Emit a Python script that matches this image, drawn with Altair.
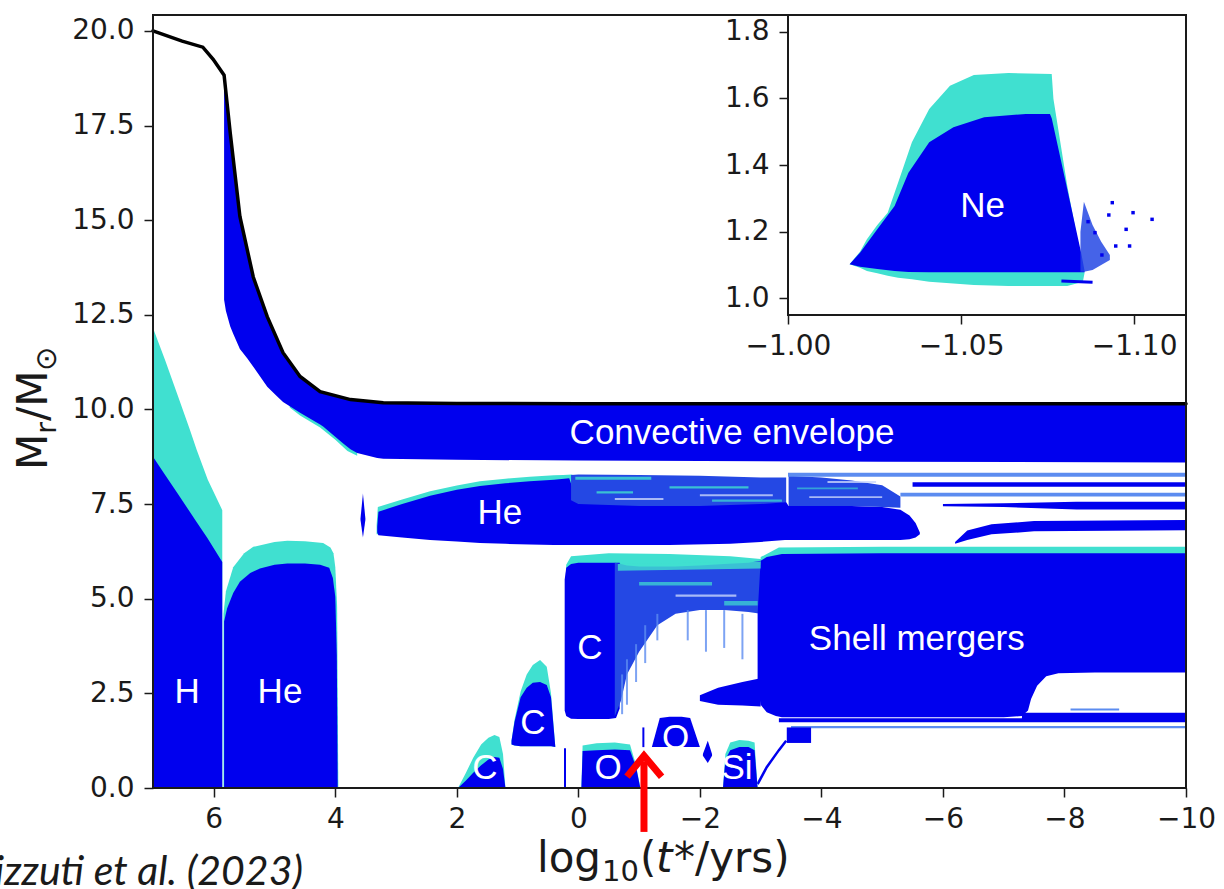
import altair as alt
import pandas as pd

# ---------------- colours / layout ----------------
BLUE = "#0000EE"
TURQ = "#40E0D0"
MIX = "#2448e4"
LIGHT = "#5c8cf0"
PALE = "#c9d6fb"
INK = "#1a1a1a"
W, H = 1033, 773

# ---------------- data ----------------
x_ticks = [6, 4, 2, 0, -2, -4, -6, -8, -10]
y_ticks = [0, 2.5, 5, 7.5, 10, 12.5, 15, 17.5, 20]
ix_ticks = [-1.0, -1.05, -1.1]
iy_ticks = [1.0, 1.2, 1.4, 1.6, 1.8]

# total stellar mass (black curve)
mass_x = [7.0, 6.52, 6.18, 6.01, 5.83, 5.73, 5.57, 5.35, 5.12, 4.86, 4.58, 4.25, 3.75, 3.21, 2.0, 0.0, -5.0, -10.0]
mass_y = [20.0, 19.73, 19.57, 19.25, 18.83, 17.32, 15.1, 13.5, 12.45, 11.5, 10.87, 10.47, 10.26, 10.18, 10.16, 10.15, 10.15, 10.15]

# convective envelope
env_x = [5.83, 5.80, 5.73, 5.68, 5.57, 5.45, 5.35, 5.12, 4.96, 4.86, 4.58, 4.25, 4.2, 3.87, 3.75, 3.64, 3.31, 3.21, 2.0, 0.0, -5.0, -10.0]
env_top = [18.83, 18.4, 17.32, 16.6, 15.1, 14.2, 13.5, 12.45, 11.9, 11.5, 10.87, 10.47, 10.44, 10.3, 10.26, 10.23, 10.19, 10.18, 10.16, 10.15, 10.15, 10.15]
env_bot = [12.9, 12.6, 12.2, 12.0, 11.6, 11.35, 11.13, 10.6, 10.35, 10.2, 9.91, 9.6, 9.55, 9.1, 8.95, 8.85, 8.72, 8.70, 8.67, 8.65, 8.62, 8.60]
envt_x = [4.75, 4.58, 4.25, 4.0, 3.8, 3.64]
envt_top = [10.15, 9.95, 9.65, 9.35, 9.05, 8.9]
envt_bot = [10.05, 9.84, 9.52, 9.2, 8.9, 8.78]

# H core
h_x = [7.0, 6.8, 6.6, 6.4, 6.28, 6.1, 5.86]
hT_top = [12.15, 11.3, 10.4, 9.5, 8.93, 8.15, 7.34]
hB_top = [8.75, 8.27, 7.79, 7.31, 7.02, 6.59, 5.97]

# He core
heT_x = [5.84, 5.80, 5.68, 5.50, 5.35, 5.0, 4.79, 4.5, 4.2, 4.08, 4.03, 4.0, 3.97, 3.95]
heT_top = [4.6, 5.2, 5.83, 6.2, 6.37, 6.5, 6.53, 6.52, 6.47, 6.35, 6.2, 5.84, 4.8, 0.0]
heB_x = [5.83, 5.78, 5.68, 5.57, 5.4, 5.24, 5.0, 4.79, 4.5, 4.25, 4.1, 4.04, 4.0, 3.975, 3.96]
heB_top = [4.4, 4.75, 5.15, 5.45, 5.68, 5.8, 5.9, 5.93, 5.93, 5.9, 5.82, 5.55, 5.05, 3.5, 0.0]

# He shell
lens_x = [3.585, 3.545, 3.505]
lens_top = [7.12, 7.78, 7.12]
lens_bot = [7.08, 6.62, 7.08]
hesT_x = [3.32, 3.3, 2.9, 2.44, 2.0, 1.62, 1.2, 0.8, 0.4, 0.25, 0.1]
hesT_top = [6.95, 7.42, 7.62, 7.84, 7.99, 8.1, 8.17, 8.22, 8.26, 8.27, 8.28]
hes_x = [3.31, 3.29, 2.9, 2.44, 2.0, 1.62, 1.2, 0.8, 0.4, 0.15, 0.05, -0.5, -1.5, -2.5, -3.0, -3.4, -3.46, -4.0, -4.5, -5.0, -5.3, -5.45, -5.55, -5.62]
hes_top = [6.9, 7.3, 7.5, 7.72, 7.88, 7.98, 8.05, 8.1, 8.14, 8.18, 7.7, 7.6, 7.55, 7.55, 7.6, 7.6, 7.45, 7.45, 7.45, 7.42, 7.35, 7.2, 7.0, 6.75]
hes_bot = [6.75, 6.68, 6.62, 6.55, 6.51, 6.47, 6.45, 6.43, 6.42, 6.42, 6.42, 6.42, 6.42, 6.45, 6.5, 6.55, 6.55, 6.55, 6.55, 6.55, 6.55, 6.57, 6.62, 6.7]
fzh_x = [0.12, 0.0, -1.0, -2.0, -3.0, -3.42]
fzh_top = [8.27, 8.28, 8.27, 8.25, 8.2, 8.2]
fzh_bot = [7.6, 7.5, 7.45, 7.45, 7.5, 7.55]
fzh2_x = [-3.46, -4.0, -4.5, -5.0, -5.3]
fzh2_top = [8.25, 8.2, 8.12, 8.0, 7.7]
fzh2_bot = [7.45, 7.45, 7.45, 7.42, 7.4]

# streaks giving the mixed zones their grain
tqA_x = [0.05, -1.2]; tqA_top = [8.22, 8.22]; tqA_bot = [8.14, 8.14]
tqB_x = [-0.3, -0.9]; tqB_top = [7.84, 7.84]; tqB_bot = [7.78, 7.78]
tqC_x = [-1.5, -2.8]; tqC_top = [7.97, 7.97]; tqC_bot = [7.91, 7.91]
tqD_x = [-2.2, -3.35]; tqD_top = [7.62, 7.62]; tqD_bot = [7.56, 7.56]
tqE_x = [-3.6, -4.6]; tqE_top = [7.94, 7.94]; tqE_bot = [7.89, 7.89]
whA_x = [-0.6, -1.4]; whA_top = [7.66, 7.66]; whA_bot = [7.61, 7.61]
whB_x = [-2.0, -3.2]; whB_top = [7.76, 7.76]; whB_bot = [7.71, 7.71]
whC_x = [-3.8, -5.0]; whC_top = [7.71, 7.71]; whC_bot = [7.66, 7.66]
whD_x = [-4.1, -4.9]; whD_top = [8.11, 8.11]; whD_bot = [8.06, 8.06]
tqF_x = [-0.65, -3.0]; tqF_top = [5.92, 5.98]; tqF_bot = [5.74, 5.8]
tqG_x = [-1.0, -2.2]; tqG_top = [5.44, 5.44]; tqG_bot = [5.35, 5.35]
tqH_x = [-2.4, -2.95]; tqH_top = [4.94, 4.94]; tqH_bot = [4.82, 4.82]
whE_x = [-1.6, -2.6]; whE_top = [5.11, 5.11]; whE_bot = [5.05, 5.05]
# thin vertical streaks along the ragged edge of the C-shell zone
vs_x = [-0.72, -0.8, -0.95, -1.1, -1.3, -1.8, -2.1, -2.4, -2.7]
vs_lo = [1.95, 2.2, 2.8, 3.3, 3.9, 3.9, 3.6, 3.7, 3.4]
vs_hi = [3.0, 3.4, 3.8, 4.3, 4.6, 4.7, 4.7, 4.7, 4.6]

# horizontal stripes right of the He shell
st1_x = [-3.45, -10.0]; st1_top = [8.33, 8.33]; st1_bot = [8.22, 8.22]
st2_x = [-5.5, -10.0]; st2_top = [8.08, 8.08]; st2_bot = [7.96, 7.96]
st3_x = [-5.3, -10.0]; st3_top = [7.8, 7.8]; st3_bot = [7.7, 7.7]
st4_x = [-6.0, -7.0, -8.2, -10.0]; st4_top = [7.5, 7.52, 7.56, 7.56]; st4_bot = [7.44, 7.42, 7.36, 7.36]
band_x = [-6.2, -6.4, -6.8, -7.5, -10.0]
band_top = [6.5, 6.8, 6.97, 7.05, 7.08]
band_bot = [6.45, 6.55, 6.7, 6.78, 6.81]

# C shell (big) and its fuzzy extension
ccap_x = [0.2, 0.12, -0.5, -1.5, -2.5, -3.0, -3.3]
ccap_top = [5.9, 6.12, 6.2, 6.18, 6.12, 6.05, 6.1]
cs_x = [0.225, 0.2, 0.12, 0.0, -0.5, -0.62, -0.68]
cs_top = [5.5, 5.82, 5.92, 5.95, 5.95, 5.95, 5.95]
cs_bot = [2.05, 1.9, 1.83, 1.82, 1.82, 1.85, 2.1]
fzc_x = [-0.6, -0.7, -0.8, -1.0, -1.3, -1.6, -2.0, -2.4, -2.8, -3.0]
fzc_top = [5.95, 5.92, 5.88, 5.85, 5.85, 5.85, 5.88, 5.92, 5.95, 6.0]
fzc_bot = [1.9, 2.3, 3.0, 3.6, 4.3, 4.6, 4.7, 4.7, 4.65, 4.6]
cb_x = [-2.0, -2.3, -2.7, -3.0]
cb_top = [2.45, 2.65, 2.8, 2.9]
cb_bot = [2.3, 2.2, 2.18, 2.15]

# shell mergers
smT_x = [-3.0, -3.3, -5.0, -10.0]
smT_top = [6.1, 6.35, 6.37, 6.37]
sm_x = [-2.95, -3.0, -3.1, -3.25, -3.35, -5.0, -7.0, -7.3, -7.4, -7.45, -7.55, -7.7, -7.9, -8.5, -10.0]
sm_top = [4.6, 6.0, 6.1, 6.15, 6.18, 6.2, 6.2, 6.2, 6.2, 6.2, 6.2, 6.2, 6.2, 6.2, 6.2]
sm_bot = [2.7, 2.2, 2.0, 1.9, 1.87, 1.87, 1.87, 1.9, 2.05, 2.35, 2.7, 2.95, 3.03, 3.05, 3.05]
sml_x = [-7.3, -10.0]; sml_top = [1.99, 1.99]; sml_bot = [1.78, 1.78]
l1_x = [-3.3, -10.0]; l1_top = [1.84, 1.84]; l1_bot = [1.74, 1.74]
l2_x = [-3.5, -10.0]; l2_top = [1.64, 1.64]; l2_bot = [1.58, 1.58]
hl_x = [-8.1, -8.9]; hl_top = [2.1, 2.1]; hl_bot = [2.05, 2.05]
blk_x = [-3.43, -3.83]; blk_top = [1.6, 1.6]; blk_bot = [1.19, 1.19]
tail_x = [-2.95, -3.1, -3.3, -3.42]
tail_y = [0.1, 0.55, 1.0, 1.25]

# small shells near the core
c1_x = [1.98, 1.85, 1.73, 1.6, 1.48, 1.38, 1.3, 1.24, 1.2]
c1T_top = [0.0, 0.4, 0.8, 1.15, 1.33, 1.4, 1.35, 0.9, 0.0]
c1B_top = [0.0, 0.2, 0.4, 0.6, 0.75, 0.82, 0.8, 0.5, 0.0]
c2_x = [1.1, 1.05, 0.95, 0.85, 0.75, 0.63, 0.52, 0.45, 0.38]
c2T_top = [1.25, 1.8, 2.55, 3.0, 3.25, 3.38, 3.2, 2.5, 1.1]
c2B_top = [1.25, 1.75, 2.4, 2.65, 2.78, 2.8, 2.72, 2.4, 1.1]
c2_bot = [1.15, 1.12, 1.1, 1.1, 1.1, 1.1, 1.1, 1.1, 1.08]
o1_x = [-0.05, -0.07, -0.3, -0.6, -0.85, -0.95, -1.02]
o1T_top = [0.0, 1.12, 1.18, 1.2, 1.15, 0.6, 0.0]
o1B_top = [0.0, 0.98, 1.0, 1.02, 1.0, 0.55, 0.0]
o2_x = [-1.21, -1.34, -1.5, -1.7, -1.84, -2.0]
o2_top = [1.08, 1.85, 1.88, 1.88, 1.85, 1.08]
blob_x = [-2.05, -2.13, -2.2]; blob_top = [0.9, 1.25, 0.9]; blob_bot = [0.85, 0.66, 0.85]
si_x = [-2.38, -2.42, -2.5, -2.65, -2.8, -2.9, -2.95]
siT_top = [0.0, 0.9, 1.2, 1.27, 1.25, 1.2, 0.0]
siB_top = [0.0, 0.75, 1.0, 1.08, 1.08, 1.0, 0.0]
vl_x = [0.22, -1.07]; vl_lo = [0.0, 1.08]; vl_hi = [1.05, 1.6]

# labels
lab_x = [6.44, 4.91, 1.29, -2.53, -0.19, 0.75, 1.54, -0.49, -1.6, -2.61, -5.57]
lab_y = [2.54, 2.54, 7.26, 9.38, 3.7, 1.72, 0.53, 0.53, 1.32, 0.53, 3.93]
lab_t = ["H", "He", "He", "Convective envelope", "C", "C", "C", "O", "O", "Si", "Shell mergers"]

# red arrow
arr_x = [-1.08, -1.08]; arr_y = [-1.16, 0.7]
head_x = [-0.8, -1.08, -1.37]; head_y = [0.3, 0.85, 0.3]

# inset: Ne burning
neT_x = [-1.0178, -1.0208, -1.0228, -1.0258, -1.0288, -1.0318, -1.0358, -1.0408, -1.0468, -1.0537, -1.0637, -1.0762, -1.0767, -1.0807, -1.0852, -1.0857]
neT_top = [1.102, 1.14, 1.177, 1.22, 1.257, 1.347, 1.468, 1.568, 1.638, 1.670, 1.676, 1.673, 1.598, 1.337, 1.09, 1.077]
neT_bot = [1.102, 1.092, 1.082, 1.075, 1.068, 1.062, 1.057, 1.05, 1.045, 1.04, 1.037, 1.037, 1.037, 1.037, 1.05, 1.077]
neB_x = [-1.0178, -1.0208, -1.0258, -1.0308, -1.0348, -1.0408, -1.0478, -1.0567, -1.0687, -1.0757, -1.0762, -1.08, -1.0847, -1.0857]
neB_top = [1.102, 1.137, 1.207, 1.277, 1.377, 1.468, 1.513, 1.543, 1.553, 1.553, 1.54, 1.36, 1.137, 1.082]
neB_bot = [1.102, 1.095, 1.088, 1.082, 1.079, 1.078, 1.078, 1.078, 1.078, 1.078, 1.078, 1.078, 1.078, 1.078]
spray_x = [-1.0845, -1.0855, -1.088, -1.0905, -1.093]
spray_top = [1.2, 1.29, 1.22, 1.17, 1.13]
spray_bot = [1.08, 1.08, 1.085, 1.1, 1.115]
nes_x = [-1.0937, -1.0977, -1.0997, -1.1052, -1.0987, -1.0947, -1.0887, -1.0907, -1.0867, -1.0927]
nes_y = [1.287, 1.207, 1.257, 1.237, 1.157, 1.157, 1.197, 1.13, 1.23, 1.25]
streak_x = [-1.079, -1.088]; streak_y = [1.052, 1.048]

# ---------------- scales & axes ----------------
SX = alt.Scale(domain=[7, -10], nice=False, zero=False)
SY = alt.Scale(domain=[0, 20.42], nice=False, zero=False)
SIX = alt.Scale(domain=[-1.0, -1.115], range=[635, W], nice=False, zero=False)
SIY = alt.Scale(domain=[0.95, 1.85], range=[300, 0], nice=False, zero=False)

common = dict(title=None, domain=False, grid=False, ticks=True, tickSize=9, tickWidth=1.5,
              tickColor=INK, labelFont="DejaVu Sans", labelFontSize=28, labelColor=INK,
              labelFlush=False, labelOverlap=False, zindex=2)
AXX = alt.Axis(values=x_ticks, format="d", orient="bottom", labelPadding=8, **common)
AXY = alt.Axis(values=y_ticks, format=".1f", orient="left", labelPadding=10, **common)
AIX = alt.Axis(values=ix_ticks, format=".2f", orient="bottom", offset=-(H - 300), labelPadding=8, **common)
AIY = alt.Axis(values=iy_ticks, format=".1f", orient="left", offset=-635, labelPadding=10, **common)


def mx(f):
    return alt.X(f, type="quantitative", scale=SX, axis=AXX)


def my(f):
    return alt.Y(f, type="quantitative", scale=SY, axis=AXY)


def ix(f):
    return alt.X(f, type="quantitative", scale=SIX, axis=AIX)


def iy(f):
    return alt.Y(f, type="quantitative", scale=SIY, axis=AIY)


def table(xs, tops, bots):
    n = len(xs)
    if not isinstance(bots, (list, tuple)):
        bots = [bots] * n
    return pd.DataFrame({"x": xs, "top": tops, "bot": bots})


def area(xs, tops, bots, color, opacity=1.0, inset=False):
    fx, fy = (ix, iy) if inset else (mx, my)
    return alt.Chart(table(xs, tops, bots)).mark_area(
        color=color, opacity=opacity, interpolate="linear").encode(
        x=fx("x"), y=fy("top"), y2=alt.Y2("bot"))


def line(xs, ys, color, width, cap="butt"):
    df = pd.DataFrame({"x": xs, "y": ys, "i": list(range(len(xs)))})
    return alt.Chart(df).mark_line(color=color, strokeWidth=width, strokeCap=cap,
                                   strokeJoin="miter").encode(
        x=mx("x"), y=my("y"), order=alt.Order("i:Q"))


def rules(xs, lo, hi, color, width, opacity=1.0):
    return alt.Chart(pd.DataFrame({"x": xs, "lo": lo, "hi": hi})).mark_rule(
        color=color, strokeWidth=width, opacity=opacity).encode(
        x=mx("x"), y=my("lo"), y2=alt.Y2("hi"))


main_layers = [
    area(h_x, hT_top, 0, TURQ),
    area(h_x, hB_top, 0, BLUE),
    area(heT_x, heT_top, 0, TURQ),
    area(heB_x, heB_top, 0, BLUE),
    area(envt_x, envt_top, envt_bot, TURQ),
    area(env_x, env_top, env_bot, BLUE),
    area(lens_x, lens_top, lens_bot, BLUE),
    area(hesT_x, hesT_top, 6.7, TURQ),
    area(hes_x, hes_top, hes_bot, BLUE),
    area(fzh_x, fzh_top, fzh_bot, MIX),
    area(fzh2_x, fzh2_top, fzh2_bot, MIX),
    area(st1_x, st1_top, st1_bot, LIGHT),
    area(st2_x, st2_top, st2_bot, BLUE),
    area(st3_x, st3_top, st3_bot, LIGHT),
    area(st4_x, st4_top, st4_bot, BLUE),
    area(band_x, band_top, band_bot, BLUE),
    area(ccap_x, ccap_top, 5.6, TURQ),
    area(cs_x, cs_top, cs_bot, BLUE),
    area(fzc_x, fzc_top, fzc_bot, MIX),
    rules(vs_x, vs_lo, vs_hi, LIGHT, 2, 0.8),
    area(cb_x, cb_top, cb_bot, BLUE),
    area(smT_x, smT_top, 5.9, TURQ),
    area(sm_x, sm_top, sm_bot, BLUE),
    area(sml_x, sml_top, sml_bot, BLUE),
    area(l1_x, l1_top, l1_bot, BLUE),
    area(l2_x, l2_top, l2_bot, LIGHT),
    area(hl_x, hl_top, hl_bot, LIGHT),
    area(blk_x, blk_top, blk_bot, BLUE),
    area(tqA_x, tqA_top, tqA_bot, TURQ, 0.8),
    area(tqB_x, tqB_top, tqB_bot, TURQ, 0.8),
    area(tqC_x, tqC_top, tqC_bot, TURQ, 0.8),
    area(tqD_x, tqD_top, tqD_bot, TURQ, 0.7),
    area(tqE_x, tqE_top, tqE_bot, TURQ, 0.6),
    area(tqF_x, tqF_top, tqF_bot, TURQ, 0.8),
    area(tqG_x, tqG_top, tqG_bot, TURQ, 0.7),
    area(tqH_x, tqH_top, tqH_bot, TURQ, 0.7),
    area(whA_x, whA_top, whA_bot, PALE, 0.8),
    area(whB_x, whB_top, whB_bot, PALE, 0.8),
    area(whC_x, whC_top, whC_bot, PALE, 0.8),
    area(whD_x, whD_top, whD_bot, PALE, 0.8),
    area(whE_x, whE_top, whE_bot, PALE, 0.8),
    line(tail_x, tail_y, BLUE, 2.5),
    area(c1_x, c1T_top, 0, TURQ),
    area(c1_x, c1B_top, 0, BLUE),
    area(c2_x, c2T_top, c2_bot, TURQ),
    area(c2_x, c2B_top, c2_bot, BLUE),
    area(o1_x, o1T_top, 0, TURQ),
    area(o1_x, o1B_top, 0, BLUE),
    area(o2_x, o2_top, 1.08, BLUE),
    area(blob_x, blob_top, blob_bot, BLUE),
    area(si_x, siT_top, 0, TURQ),
    area(si_x, siB_top, 0, BLUE),
    rules(vl_x, vl_lo, vl_hi, BLUE, 2),
    line(mass_x, mass_y, "black", 3.5, "round"),
    alt.Chart(pd.DataFrame({"x": lab_x, "y": lab_y, "t": lab_t})).mark_text(
        color="white", font="Liberation Sans", fontSize=35, align="center",
        baseline="middle").encode(x=mx("x"), y=my("y"), text="t:N"),
    alt.Chart(pd.DataFrame({"a": [0]})).mark_rect(
        filled=False, stroke=INK, strokeWidth=2).encode(
        x=alt.value(0), x2=alt.value(W), y=alt.value(0), y2=alt.value(H)),
    line(arr_x, arr_y, "#ff0000", 7),
    line(head_x, head_y, "#ff0000", 7),
]


def txt(t, x, y, size, angle=0, align="left", style="normal", font="DejaVu Sans"):
    return alt.Chart(pd.DataFrame({"t": [t]})).mark_text(
        font=font, fontSize=size, angle=angle, align=align, baseline="alphabetic",
        color=INK, fontStyle=style).encode(x=alt.value(x), y=alt.value(y), text="t:N")


# axis titles composed from text pieces (relative to the plot origin)
titles = [
    txt("log", 448, 857, 42, align="right"),
    txt("10", 449, 866, 29),
    txt("(", 487, 857, 42),
    txt("t", 503, 857, 42, style="italic"),
    txt("*/yrs)", 521, 857, 42),
    txt("M", -106, 455, 42, angle=270),
    txt("r", -97, 419, 29, angle=270),
    txt("/M", -106, 406, 42, angle=270),
    txt("⊙", -97, 356, 29, angle=270),
    txt("Rizzuti et al. (2023)", 150, 870, 41, align="right", style="italic", font="Lato"),
]

main = alt.layer(*main_layers, *titles)

inset_layers = [
    alt.Chart(pd.DataFrame({"x1": [-1.0], "x2": [-1.115], "y1": [0.95], "y2": [1.85]})).mark_rect(
        fill="white", stroke=INK, strokeWidth=2).encode(
        x=ix("x1"), x2=alt.X2("x2"), y=iy("y1"), y2=alt.Y2("y2")),
    area(neT_x, neT_top, neT_bot, TURQ, inset=True),
    area(neB_x, neB_top, neB_bot, BLUE, inset=True),
    area(spray_x, spray_top, spray_bot, MIX, 0.85, inset=True),
    alt.Chart(pd.DataFrame({"x": nes_x, "y": nes_y})).mark_square(
        color=BLUE, size=12, opacity=1).encode(x=ix("x"), y=iy("y")),
    alt.Chart(pd.DataFrame({"x": streak_x, "y": streak_y, "i": [0, 1]})).mark_line(
        color=BLUE, strokeWidth=3).encode(x=ix("x"), y=iy("y"), order=alt.Order("i:Q")),
    alt.Chart(pd.DataFrame({"x": [-1.0562], "y": [1.277], "t": ["Ne"]})).mark_text(
        color="white", font="Liberation Sans", fontSize=35, align="center",
        baseline="middle").encode(x=ix("x"), y=iy("y"), text="t:N"),
]
inset = alt.layer(*inset_layers)

chart = alt.layer(main, inset).resolve_scale(x="independent", y="independent").properties(
    width=W, height=H,
    autosize=alt.AutoSizeParams(type="none"),
    padding={"left": 153, "top": 15, "right": 38, "bottom": 101},
    background="white",
).configure_view(stroke=None)

chart.save("out.html", embed_options={"renderer": "svg", "actions": False})
